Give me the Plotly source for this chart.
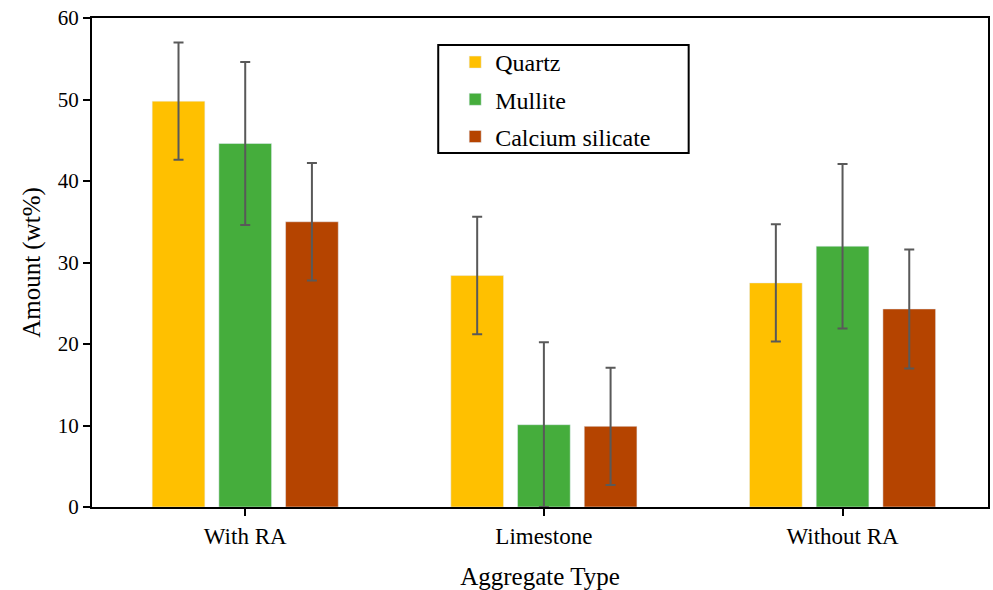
import plotly.graph_objects as go

categories = ["With RA", "Limestone", "Without RA"]
series_names = ["Quartz", "Mullite", "Calcium silicate"]
quartz = [49.8, 28.4, 27.5]
mullite = [44.6, 10.1, 32.0]
calcium = [35.0, 9.9, 24.3]
quartz_err = [7.2, 7.2, 7.2]
mullite_err = [10.0, 10.1, 10.1]
calcium_err = [7.2, 7.2, 7.3]
colors = ["#FFC000", "#45AD3C", "#B54400"]
y_ticks = [0, 10, 20, 30, 40, 50, 60]

FONT = "Liberation Serif"

W, H = 993, 590
L, T, R, B = 92, 18, 3, 83
pw = W - L - R   # 898
ph = H - T - B   # 489

fig = go.Figure()
for name, vals, errs, col in zip(series_names, [quartz, mullite, calcium],
                                 [quartz_err, mullite_err, calcium_err], colors):
    fig.add_trace(go.Bar(
        x=categories, y=vals, name=name, marker_color=col, legendgroup=name,
        error_y=dict(type="data", array=errs, visible=True, color="#595959",
                     thickness=2, width=5),
    ))

fig.update_layout(
    width=W, height=H,
    margin=dict(l=L, r=R, t=T, b=B),
    paper_bgcolor="white", plot_bgcolor="white",
    barmode="group", bargap=0.33, bargroupgap=0.21,
    font=dict(family=FONT, color="black", size=20),
    showlegend=True,
    legend=dict(x=(456 - L) / pw, y=(507 - 40) / ph, xanchor="left", yanchor="top",
                bgcolor="rgba(0,0,0,0)", borderwidth=0,
                font=dict(family=FONT, size=24, color="black"),
                tracegroupgap=3, itemwidth=30),
    xaxis=dict(range=[-0.513, 2.487], showline=True, linecolor="black", linewidth=2,
               mirror=True, ticks="outside", ticklen=7, tickcolor="black", tickwidth=2,
               tickfont=dict(family=FONT, size=23, color="black"),
               title=dict(text="Aggregate Type", font=dict(family=FONT, size=25, color="black"),
                          standoff=20)),
    yaxis=dict(range=[0, 60], tickvals=y_ticks, showline=True, linecolor="black",
               linewidth=2, mirror=True, ticks="outside", ticklen=7, tickcolor="black",
               tickwidth=2, showgrid=False, zeroline=False,
               tickfont=dict(family=FONT, size=21, color="black"),
               title=dict(text="Amount (wt%)", font=dict(family=FONT, size=25, color="black"),
                          standoff=10)),
)

fig.add_shape(type="rect", xref="paper", yref="paper",
              x0=(439 - L) / pw, x1=(690 - L) / pw,
              y0=(507 - 153) / ph, y1=(507 - 45) / ph,
              line=dict(color="black", width=2), fillcolor="rgba(0,0,0,0)")

fig.write_html("out.html", config={"displayModeBar": False},
               post_script="document.body.style.margin='0';")
